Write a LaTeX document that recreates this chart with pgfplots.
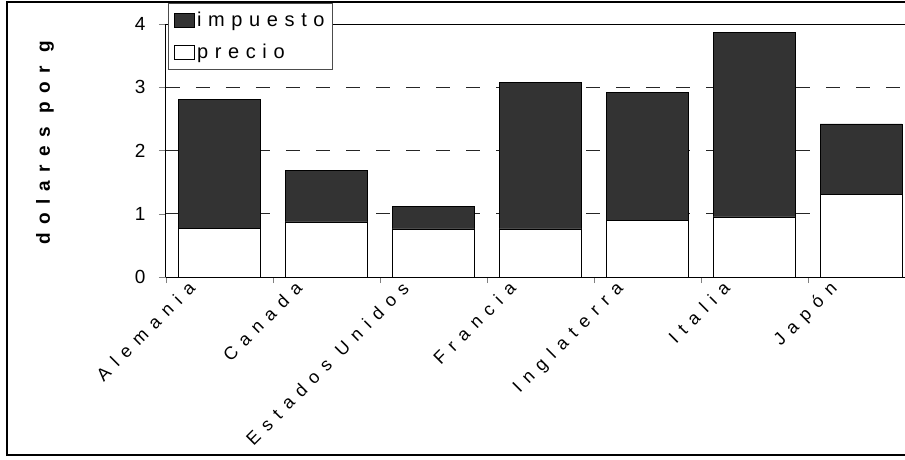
\documentclass[border=0pt]{standalone}
\usepackage{pgfplots}
\pgfplotsset{compat=1.18}
\usetikzlibrary{calc}
\usepackage{fontspec}
\setmainfont{Liberation Sans}
\newfontfamily\lgfont{Liberation Sans}[LetterSpace=33]
\newfontfamily\xlfont{Liberation Sans}[LetterSpace=44]
\newfontfamily\ylfont{Liberation Sans}[LetterSpace=44]
\begin{document}
\begin{tikzpicture}[x=1pt,y=1pt]
\begin{axis}[
  scale only axis, width=739pt, height=253pt,
  ybar stacked, bar width=82pt,
  xmin=-0.5, xmax=6.41, ymin=0, ymax=4,
  axis lines*=left,
  axis line style={line width=1pt},
  xtick={0,...,6},
  xticklabels={Alemania,Canada,Estados Unidos,Francia,Inglaterra,Italia,Japón},
  major x tick style={draw=none},
  minor xtick={-0.5,0.5,...,5.5},
  minor tick length=6pt,
  xtick align=outside,
  xticklabel style={rotate=45, anchor=north east, font=\xlfont\fontsize{18}{20}\selectfont, xshift=-17pt, yshift=29pt},
  ytick={0,1,2,3,4},
  ytick align=outside, major tick length=7pt,
  yticklabel style={font=\fontsize{19}{21}\selectfont, xshift=-10pt},
  /pgf/number format/assume math mode=true,
  ymajorgrids,
  major grid style={black!85, line width=0.8pt, dash pattern=on 14pt off 16pt},
  ylabel={\bfseries dolares por g},
  every axis y label/.style={at={(rel axis cs:-0.1637,0.53)}, rotate=90, anchor=center, font=\ylfont\fontsize{19}{21}\selectfont},
  reverse legend,
  legend style={at={(rel axis cs:0.003,1.083)}, anchor=north west, draw=black!70, fill=white,
    font=\lgfont\fontsize{20}{22}\selectfont, inner xsep=6pt, inner ysep=7pt, row sep=12pt, legend cell align=left},
  legend image code/.code={\draw[#1] (2pt,-7pt) rectangle (22pt,7pt);},
  clip=true,
]
\addplot[fill=white, draw=black, line width=0.8pt] coordinates {(0,0.77) (1,0.87) (2,0.76) (3,0.76) (4,0.90) (5,0.95) (6,1.30)};
\addlegendentry{precio}
\addplot[fill=black!80, draw=black, line width=0.8pt] coordinates {(0,2.04) (1,0.82) (2,0.35) (3,2.31) (4,2.02) (5,2.91) (6,1.12)};
\addlegendentry{impuesto}
\draw[line width=1.6pt] (rel axis cs:0,1) -- (rel axis cs:1,1);
\coordinate (O) at (rel axis cs:0,0);
\end{axis}
\pgfresetboundingbox
\path[use as bounding box] ($(O)+(-166,-183)$) rectangle ++(905,460);
\draw[line width=1.2pt] ($(O)+(-159,-179)$) -- ++(0,454) -- ++(900,0);
\draw[line width=1.2pt] ($(O)+(-159,-178)$) -- ++(900,0);
\end{tikzpicture}
\end{document}
